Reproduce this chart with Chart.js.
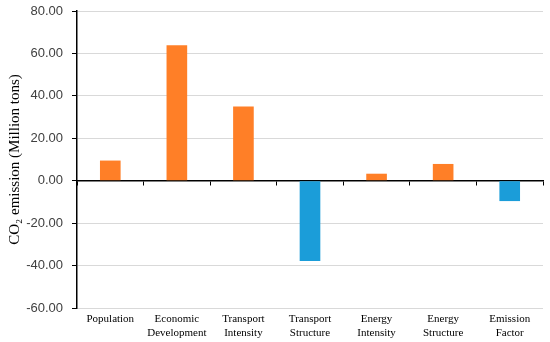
<!DOCTYPE html>
<html>
<head>
<meta charset="utf-8">
<script src="https://cdn.jsdelivr.net/npm/chart.js@4/dist/chart.umd.min.js"></script>
<style>
html,body{margin:0;padding:0;background:#fff;}
#wrap{width:550px;height:342px;position:relative;}
</style>
</head>
<body>
<div id="wrap"><canvas id="c"></canvas></div>
<script>
const categories = [["Population"],["Economic","Development"],["Transport","Intensity"],["Transport","Structure"],["Energy","Intensity"],["Energy","Structure"],["Emission","Factor"]];
const values = [9.5, 63.8, 35.0, -37.8, 3.3, 7.9, -9.6];
const yTicks = [80, 60, 40, 20, 0, -20, -40, -60];
const posColor = '#FF7F27';
const negColor = '#1B9DD9';

new Chart(document.getElementById('c'), {
  type: 'bar',
  data: {
    labels: categories,
    datasets: [{
      data: values,
      backgroundColor: values.map(v => v >= 0 ? posColor : negColor),
      borderWidth: 0,
      barPercentage: 0.31,
      categoryPercentage: 1.0
    }]
  },
  options: {
    responsive: true,
    maintainAspectRatio: false,
    animation: false,
    layout: { padding: { top: 0, right: 7, left: 0, bottom: 0 } },
    plugins: { legend: { display: false }, tooltip: { enabled: false } },
    scales: {
      x: {
        position: 'bottom',
        grid: { display: false, drawTicks: false },
        border: { display: false },
        afterFit: (s) => { s.height = 34; s.paddingLeft = 0; s.paddingRight = 0; },
        ticks: {
          color: '#000',
          font: { family: 'Liberation Serif', size: 11, lineHeight: 1.3 },
          maxRotation: 0,
          autoSkip: false,
          padding: 4
        }
      },
      x0: {
        axis: 'x',
        type: 'category',
        labels: categories,
        position: { y: 0 },
        offset: true,
        grid: { display: true, drawOnChartArea: false, drawTicks: true, tickLength: 4, color: '#000', offset: true },
        border: { display: true, color: '#000', width: 1.5 },
        ticks: { display: false }
      },
      y: {
        min: -60,
        max: 80,
        afterBuildTicks: (s) => { s.ticks = yTicks.map(v => ({ value: v })); },
        afterFit: (s) => { s.width = 77; s.paddingTop = 11; s.paddingBottom = 0; },
        grid: {
          color: (ctx) => ctx.tick && ctx.tick.value === 0 ? 'rgba(0,0,0,0)' : '#D9D9D9',
          tickColor: '#000',
          tickLength: 5,
          lineWidth: 1
        },
        border: { display: true, color: '#000', width: 1.5 },
        ticks: {
          color: '#404040',
          font: { family: 'Liberation Sans', size: 13 },
          padding: 9,
          callback: (v) => Number(v).toFixed(2)
        },
        title: {
          display: true,
          text: 'CO₂ emission (Million tons)',
          color: '#000',
          font: { family: 'Liberation Serif', size: 15 },
          padding: { top: 6, bottom: 4 }
        }
      }
    }
  }
});
</script>
</body>
</html>
